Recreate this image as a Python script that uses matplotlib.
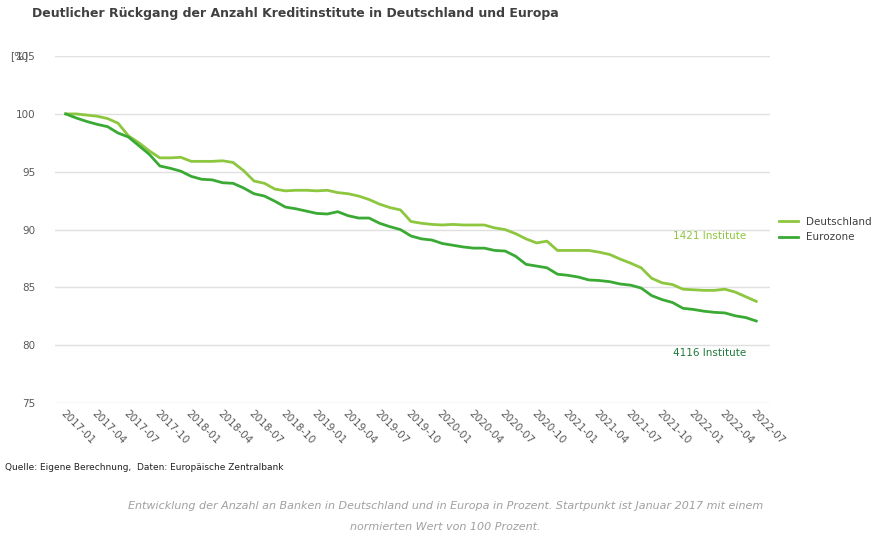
import numpy as np
import matplotlib.pyplot as plt

# monthly values, 2017-01 .. 2022-07, index 2017-01 = 100
deutschland = [100, 100, 99.9, 99.8, 99.6, 99.2, 98.1, 97.5, 96.8, 96.2, 96.2, 96.25,
               95.9, 95.9, 95.9, 95.95, 95.8, 95.1, 94.2, 94.0, 93.5, 93.35, 93.4, 93.4,
               93.35, 93.4, 93.2, 93.1, 92.9, 92.6, 92.2, 91.9, 91.7, 90.7, 90.55, 90.45,
               90.4, 90.45, 90.4, 90.4, 90.4, 90.15, 90.0, 89.65, 89.2, 88.85, 89.0, 88.2,
               88.2, 88.2, 88.2, 88.05, 87.85, 87.45, 87.1, 86.7, 85.8, 85.4, 85.25, 84.85,
               84.8, 84.75, 84.75, 84.85, 84.6, 84.2, 83.8]
eurozone = [100, 99.65, 99.35, 99.1, 98.9, 98.35, 98.0, 97.25, 96.5, 95.5, 95.3, 95.05,
            94.6, 94.35, 94.3, 94.05, 94.0, 93.6, 93.1, 92.9, 92.45, 91.95, 91.8, 91.6,
            91.4, 91.35, 91.55, 91.2, 91.0, 91.0, 90.55, 90.25, 90.0, 89.45, 89.2, 89.1,
            88.8, 88.65, 88.5, 88.4, 88.4, 88.2, 88.15, 87.7, 87.0, 86.85, 86.7, 86.15,
            86.05, 85.9, 85.65, 85.6, 85.5, 85.3, 85.2, 84.95, 84.3, 83.95, 83.7, 83.2,
            83.1, 82.95, 82.85, 82.8, 82.55, 82.4, 82.1]
months = [f"{2017 + i // 12}-{i % 12 + 1:02d}" for i in range(len(deutschland))]

c_de = '#8dc63f'
c_ez = '#3aaa35'

fig = plt.figure(figsize=(8.91, 5.39), dpi=100)
ax = fig.add_axes([0.062, 0.252, 0.802, 0.644])
x = np.arange(len(months))
ax.plot(x, deutschland, color=c_de, lw=2, label='Deutschland')
ax.plot(x, eurozone, color=c_ez, lw=2, label='Eurozone')

ax.set_ylim(75, 105)
ax.set_yticks(range(75, 106, 5))
ax.set_xlim(-1, len(x) + 0.3)
ax.set_xticks(x[::3])
ax.set_xticklabels(months[::3], rotation=-45, ha='left', va='top',
                   rotation_mode='anchor', fontsize=7.5, color='#595959')
ax.tick_params(axis='y', labelsize=7.5, labelcolor='#595959', length=0, pad=14)
ax.tick_params(axis='x', length=0, pad=4)
ax.grid(axis='y', color='#e0e0e0', lw=1)
for s in ax.spines.values():
    s.set_visible(False)

ax.text(61.5, 89.2, '1421 Institute', color=c_de, fontsize=7.5, ha='center')
ax.text(61.5, 79.1, '4116 Institute', color='#1e7b3a', fontsize=7.5, ha='center')
ax.legend(loc='center left', bbox_to_anchor=(1.0, 0.5), frameon=False,
          fontsize=7.5, handlelength=1.8, labelcolor='#404040')

fig.text(0.011, 0.896, '[%]', fontsize=7.5, color='#595959', va='center')
fig.text(0.036, 0.975, 'Deutlicher Rückgang der Anzahl Kreditinstitute in Deutschland und Europa',
         fontsize=9, fontweight='bold', color='#404040', va='center')
fig.text(0.006, 0.132, 'Quelle: Eigene Berechnung,  Daten: Europäische Zentralbank',
         fontsize=6.5, color='#222222', va='center')
fig.text(0.5, 0.062, 'Entwicklung der Anzahl an Banken in Deutschland und in Europa in Prozent. Startpunkt ist Januar 2017 mit einem',
         fontsize=8, style='italic', color='#a0a0a0', ha='center', va='center')
fig.text(0.5, 0.022, 'normierten Wert von 100 Prozent.',
         fontsize=8, style='italic', color='#a0a0a0', ha='center', va='center')

fig.savefig('out.png', dpi=100)
